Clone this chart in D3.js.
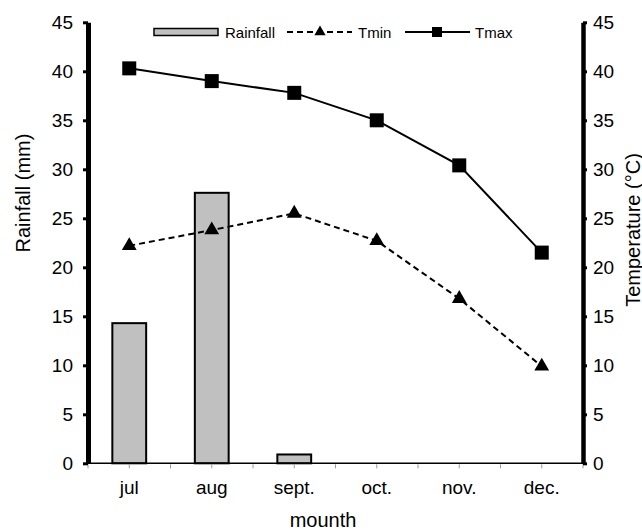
<!DOCTYPE html>
<html>
<head>
<meta charset="utf-8">
<script src="https://cdn.jsdelivr.net/npm/d3@7"></script>
<style>
  body { margin: 0; background: #fff; }
  text { font-family: "Liberation Sans", Arial, sans-serif; fill: #000; }
</style>
</head>
<body>
<div id="chart" style="width:642px;height:531px;"></div>
<script>
const months = ["jul", "aug", "sept.", "oct.", "nov.", "dec."];
const rainfall = [14.3, 27.6, 0.9, 0, 0, 0];
const tmin = [22.2, 23.8, 25.5, 22.7, 16.8, 9.9];
const tmax = [40.3, 39.0, 37.8, 35.0, 30.4, 21.5];
const yTicks = [0, 5, 10, 15, 20, 25, 30, 35, 40, 45];

function renderChart(containerSelector) {
    const container = d3.select(containerSelector);
    const width = 642, height = 531;
    const margin = { top: 22.3, right: 59, bottom: 67.7, left: 88 };

    const svg = container.append("svg")
        .attr("width", width)
        .attr("height", height);

    const x = d3.scaleBand()
        .domain(months)
        .range([margin.left, width - margin.right]);

    const yL = d3.scaleLinear().domain([0, 45]).range([height - margin.bottom, margin.top]);
    const yR = d3.scaleLinear().domain([0, 45]).range([height - margin.bottom, margin.top]);

    const barW = x.bandwidth() * 0.41;

    // bars
    svg.append("g").selectAll("rect")
        .data(months.map((m, i) => ({ m, v: rainfall[i] })).filter(d => d.v > 0))
        .join("rect")
        .attr("x", d => x(d.m) + x.bandwidth() / 2 - barW / 2)
        .attr("y", d => yL(d.v))
        .attr("width", barW)
        .attr("height", d => yL(0) - yL(d.v))
        .attr("fill", "#c0c0c0")
        .attr("stroke", "#000")
        .attr("stroke-width", 2);

    // bottom axis
    const bottom = svg.append("g")
        .attr("transform", `translate(0,${yL(0)})`);
    bottom.append("line")
        .attr("x1", x.range()[0]).attr("x2", x.range()[1])
        .attr("stroke", "#000").attr("stroke-width", 1.5);
    const tickPos = [];
    months.forEach(m => { tickPos.push(x(m)); tickPos.push(x(m) + x.bandwidth() / 2); });
    tickPos.push(x.range()[1]);
    bottom.selectAll("line.tk")
        .data(tickPos)
        .join("line")
        .attr("class", "tk")
        .attr("x1", d => d).attr("x2", d => d)
        .attr("y1", 1).attr("y2", 5)
        .attr("stroke", "#999").attr("stroke-width", 1);
    bottom.selectAll("text")
        .data(months)
        .join("text")
        .attr("x", d => x(d) + x.bandwidth() / 2)
        .attr("y", 31)
        .attr("text-anchor", "middle")
        .style("font-size", "19px")
        .text(d => d);

    // left axis
    const left = svg.append("g")
        .attr("transform", `translate(${margin.left},0)`)
        .call(d3.axisLeft(yL).tickValues(yTicks).tickSize(5).tickPadding(10).tickSizeOuter(0));
    left.select(".domain").attr("stroke-width", 5).attr("stroke", "#000");
    left.selectAll(".tick line").attr("stroke-width", 3);
    left.selectAll(".tick text").style("font-size", "19px").style("font-family", "Liberation Sans, Arial, sans-serif");

    // right axis
    const right = svg.append("g")
        .attr("transform", `translate(${width - margin.right},0)`)
        .call(d3.axisRight(yR).tickValues(yTicks).tickSize(4).tickPadding(6).tickSizeOuter(0));
    right.select(".domain").attr("stroke-width", 4.5).attr("stroke", "#000");
    right.selectAll(".tick line").attr("stroke-width", 3);
    right.selectAll(".tick text").style("font-size", "19px").style("font-family", "Liberation Sans, Arial, sans-serif");

    // lines
    const cx = m => x(m) + x.bandwidth() / 2;
    const lineMin = d3.line().x((d, i) => cx(months[i])).y(d => yR(d));
    svg.append("path")
        .attr("d", lineMin(tmin))
        .attr("fill", "none").attr("stroke", "#000")
        .attr("stroke-width", 2).attr("stroke-dasharray", "6,4");
    svg.append("path")
        .attr("d", lineMin(tmax))
        .attr("fill", "none").attr("stroke", "#000")
        .attr("stroke-width", 2);

    const tri = d3.symbol().type(d3.symbolTriangle).size(95);
    svg.append("g").selectAll("path")
        .data(tmin)
        .join("path")
        .attr("transform", (d, i) => `translate(${cx(months[i])},${yR(d)})`)
        .attr("d", tri)
        .attr("fill", "#000");

    svg.append("g").selectAll("rect")
        .data(tmax)
        .join("rect")
        .attr("x", (d, i) => cx(months[i]) - 7)
        .attr("y", d => yR(d) - 7)
        .attr("width", 14).attr("height", 14)
        .attr("fill", "#000");

    // axis titles
    svg.append("text")
        .attr("transform", `translate(30,193) rotate(-90)`)
        .attr("text-anchor", "middle")
        .style("font-size", "20px")
        .text("Rainfall (mm)");
    svg.append("text")
        .attr("transform", `translate(640,230) rotate(-90)`)
        .attr("text-anchor", "middle")
        .style("font-size", "20px")
        .text("Temperature (°C)");
    svg.append("text")
        .attr("x", 323).attr("y", 527)
        .attr("text-anchor", "middle")
        .style("font-size", "20px")
        .text("mounth");

    // legend
    const legend = svg.append("g").attr("transform", "translate(154,32)");
    legend.append("rect")
        .attr("x", 0).attr("y", -3.5).attr("width", 64).attr("height", 7)
        .attr("fill", "#c0c0c0").attr("stroke", "#000").attr("stroke-width", 1.5);
    legend.append("text").attr("x", 71).attr("y", 5.5).style("font-size", "15px").text("Rainfall");
    legend.append("line")
        .attr("x1", 133).attr("x2", 198)
        .attr("stroke", "#000").attr("stroke-width", 2).attr("stroke-dasharray", "6,4");
    legend.append("path")
        .attr("transform", "translate(166,0)")
        .attr("d", d3.symbol().type(d3.symbolTriangle).size(55))
        .attr("fill", "#000");
    legend.append("text").attr("x", 204).attr("y", 5.5).style("font-size", "15px").text("Tmin");
    legend.append("line")
        .attr("x1", 251).attr("x2", 316)
        .attr("stroke", "#000").attr("stroke-width", 2);
    legend.append("rect")
        .attr("x", 283 - 5).attr("y", -5).attr("width", 10).attr("height", 10)
        .attr("fill", "#000");
    legend.append("text").attr("x", 321).attr("y", 5.5).style("font-size", "15px").text("Tmax");
}

renderChart("#chart");
</script>
</body>
</html>
